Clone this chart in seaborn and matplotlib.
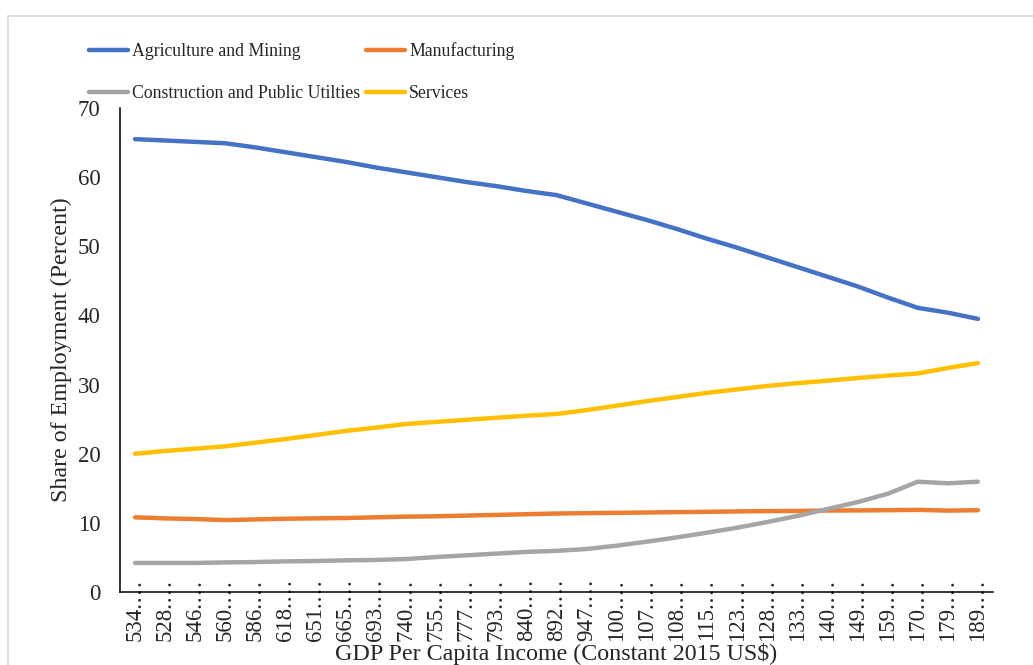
import matplotlib
matplotlib.use("Agg")
import matplotlib.pyplot as plt
import matplotlib.patches as mpatches
import numpy as np
import pandas as pd
import seaborn as sns

# GDP per capita categories (constant 2015 US$), as shown on the axis
gdp_labels = ["534", "528", "546", "560", "586", "618", "651", "665", "693",
              "740", "755", "777", "793", "840", "892", "947", "100", "107",
              "108", "115", "123", "128", "133", "140", "149", "159", "170",
              "179", "189"]

# Share of employment by sector (percent)
agriculture = [65.5, 65.3, 65.1, 64.9, 64.3, 63.6, 62.9, 62.2, 61.4, 60.7,
               60.0, 59.3, 58.7, 58.0, 57.4, 56.2, 55.0, 53.8, 52.5, 51.1,
               49.8, 48.4, 47.0, 45.6, 44.2, 42.6, 41.1, 40.4, 39.5]
manufacturing = [10.8, 10.65, 10.55, 10.4, 10.5, 10.6, 10.65, 10.7, 10.8, 10.9,
                 10.95, 11.05, 11.15, 11.25, 11.35, 11.4, 11.45, 11.5, 11.55, 11.6,
                 11.65, 11.7, 11.72, 11.78, 11.8, 11.83, 11.88, 11.77, 11.83]
construction = [4.2, 4.2, 4.2, 4.28, 4.33, 4.43, 4.48, 4.58, 4.63, 4.77,
                5.06, 5.3, 5.55, 5.8, 5.95, 6.22, 6.7, 7.28, 7.9, 8.58,
                9.3, 10.12, 11.0, 12.0, 13.0, 14.2, 15.95, 15.72, 15.95]
services = [20.0, 20.4, 20.73, 21.07, 21.6, 22.13, 22.7, 23.3, 23.77, 24.3,
            24.6, 24.9, 25.2, 25.5, 25.75, 26.3, 26.95, 27.6, 28.2, 28.8,
            29.3, 29.8, 30.2, 30.56, 30.95, 31.3, 31.6, 32.4, 33.1]

series_names = ["Agriculture and Mining", "Manufacturing",
                "Construction and Public Utilties", "Services"]
series_values = [agriculture, manufacturing, construction, services]
colors = ["#4472C4", "#ED7D31", "#A5A5A5", "#FFC000"]

df = pd.concat(
    [pd.DataFrame({"gdp": gdp_labels, "share": vals, "sector": name})
     for name, vals in zip(series_names, series_values)],
    ignore_index=True,
)

sns.set_theme(style="white")
plt.rcParams["font.family"] = ["Liberation Serif", "DejaVu Serif"]
FS_TICK = 16.5
FS_TITLE = 17.3
FS_LEG = 12.8

W, H = 1033, 665
fig = plt.figure(figsize=(W / 100, H / 100), dpi=100)
ax = fig.add_axes([120 / W, 1 - 592 / H, 873 / W, 484 / H])

sns.lineplot(data=df, x="gdp", y="share", hue="sector", hue_order=series_names,
             palette=colors, linewidth=3.2, sort=False, ax=ax)

ax.set_xlim(-0.5, len(gdp_labels) - 0.5)
ax.set_ylim(0, 70)
ax.set_yticks(np.arange(0, 71, 10))
ax.set_xticks(range(len(gdp_labels)))
ax.set_xticklabels([f"{g}.\u2026" for g in gdp_labels], rotation=90,
                   fontsize=FS_TICK)
ax.tick_params(axis="x", length=0, pad=-10)
ax.tick_params(axis="y", length=0, pad=14, labelsize=FS_TICK)

for side in ["top", "right"]:
    ax.spines[side].set_visible(False)
for side in ["left", "bottom"]:
    ax.spines[side].set_color("black")
    ax.spines[side].set_linewidth(1.1)

ax.set_xlabel("GDP Per Capita Income (Constant 2015 US$)", fontsize=FS_TITLE,
              labelpad=1.5)
ax.set_ylabel("Share of Employment (Percent)", fontsize=FS_TITLE, labelpad=4)

# legend laid out row by row: two sectors per row
handles, labels = ax.get_legend_handles_labels()
order = [0, 2, 1, 3]
ax.get_legend().remove()
leg = ax.legend([handles[i] for i in order], [labels[i] for i in order],
                loc="upper left", bbox_to_anchor=(89 / W, 1 - 42 / H),
                bbox_transform=fig.transFigure, ncol=2, frameon=False,
                fontsize=FS_LEG, handlelength=2.2, handletextpad=0.22,
                columnspacing=0.33, labelspacing=1.42, borderpad=0,
                borderaxespad=0)
for line in leg.get_lines():
    line.set_linewidth(3.2)

# outer chart frame
frame = mpatches.Rectangle((8 / W, -0.05), 1.1, 1 - 16 / H + 0.05,
                           transform=fig.transFigure, fill=False,
                           edgecolor="#D9D9D9", linewidth=1.2, clip_on=False)
fig.patches.append(frame)

fig.savefig("out.png", dpi=100)
